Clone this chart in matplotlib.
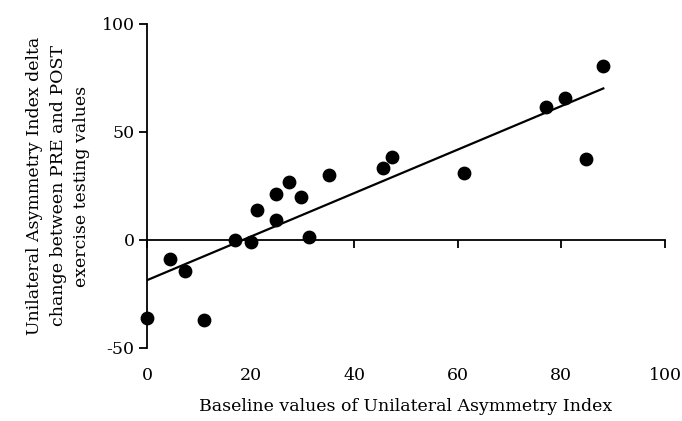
import numpy as np
import matplotlib.pyplot as plt

plt.rcParams['font.family'] = ['DejaVu Serif']
plt.rcParams['axes.unicode_minus'] = False

# baseline UAI vs delta change (PRE-POST)
baseline = [0.0, 4.4, 7.3, 11.0, 16.9, 20.1, 21.3, 25.0, 25.0, 27.4, 29.7, 31.3,
            35.1, 45.6, 47.4, 61.3, 77.0, 80.8, 84.7, 88.1]
delta = [-36.3, -8.9, -14.5, -37.2, 0.0, -1.1, 13.9, 21.4, 9.4, 26.7, 19.8, 1.5,
         30.2, 33.5, 38.4, 30.9, 61.4, 65.7, 37.5, 80.6]
x_ticks = [0, 20, 40, 60, 80, 100]
y_ticks = [-50, 0, 50, 100]

fig = plt.figure(figsize=(6.82, 4.21), dpi=100)
ax = fig.add_axes([0.2155, 0.1734, 0.7595, 0.7696])

ax.scatter(baseline, delta, s=80, color='black', zorder=3, clip_on=False)

# linear trend line
k, b = np.polyfit(baseline, delta, 1)
xs = np.array([min(baseline), max(baseline)])
ax.plot(xs, k * xs + b, color='black', lw=1.6)

ax.set_xlim(0, 100)
ax.set_ylim(-50, 100)
ax.set_yticks(y_ticks)
ax.set_xticks(x_ticks)

for s in ['top', 'right', 'bottom']:
    ax.spines[s].set_visible(False)
ax.spines['left'].set_linewidth(1.3)
ax.tick_params(axis='y', length=6, width=1.3, labelsize=12.5, pad=3)
ax.tick_params(axis='x', length=0, labelsize=12.5, pad=14)

# horizontal axis line at y=0 with its tick marks
sec = ax.secondary_xaxis(1 / 3)
sec.set_xticks(x_ticks)
sec.set_xticklabels([])
sec.spines['bottom'].set_linewidth(1.3)
sec.tick_params(axis='x', length=6, width=1.3)

ax.set_xlabel('Baseline values of Unilateral Asymmetry Index', fontsize=12.5, labelpad=10)
ax.set_ylabel('Unilateral Asymmetry Index delta\nchange between PRE and POST\nexercise testing values',
              fontsize=12.5, labelpad=8, linespacing=1.5)

fig.savefig('out.png', dpi=100)
